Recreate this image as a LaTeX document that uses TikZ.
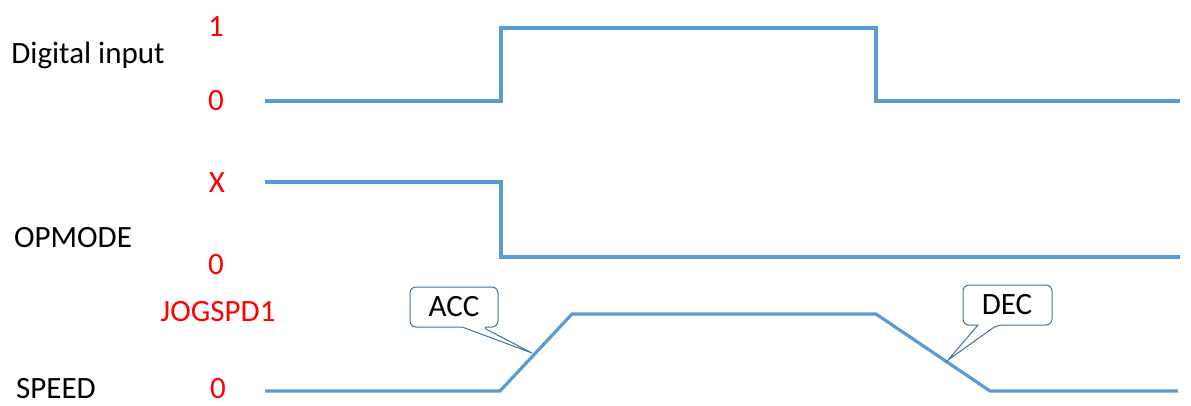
\documentclass[tikz,border=0pt]{standalone}
\usepackage{fontspec}
\setmainfont{Carlito}
\begin{document}
\begin{tikzpicture}[x=1pt,y=-1pt,
  wave/.style={draw=wavecol,line width=3.2pt,line join=miter},
  lbl/.style={font=\fontsize{31}{34}\selectfont,text=black,inner sep=0pt},
  val/.style={font=\fontsize{31}{34}\selectfont,text=red,inner sep=0pt},
  callout/.style={draw=callcol,fill=white,line width=1pt},
  ctext/.style={font=\fontsize{31}{34}\selectfont,inner sep=0pt}]
\definecolor{wavecol}{HTML}{5B9BD5}
\definecolor{callcol}{HTML}{41719C}
\useasboundingbox (0,0) rectangle (1191,405);
% labels
\node[lbl] (di) at (88,55) {Digital input};
\node[lbl] (op) at (73,238) {OPMODE};
\node[lbl] (sp) at (56,389) {SPEED};
\node[val] (d1) at (216,27) {1};
\node[val] (d0) at (216,101) {0};
\node[val] (ox) at (217,183) {X};
\node[val] (o0) at (216,265) {0};
\node[val] (jog) at (218,312) {JOGSPD1};
\node[val] (s0) at (218,389) {0};
% waveforms
\draw[wave] (265,101) -- (501,101) -- (501,28) -- (876,28) -- (876,101) -- (1180,101);
\draw[wave] (265,182) -- (501,182) -- (501,257) -- (1180,257);
\draw[wave] (265,391) -- (500,391) -- (572,314) -- (876,314) -- (990,391) -- (1178,391);
% ACC callout
\draw[callout,rounded corners=6pt] (410,307) -- (410,287) -- (498,287) -- (498,327) -- (482,327) [sharp corners] -- (532,353) -- (462,327) [rounded corners=6pt] -- (410,327) -- cycle;
\node[ctext] (acc) at (454,307) {ACC};
% DEC callout
\draw[callout,rounded corners=6pt] (963,305) -- (963,285) -- (1052,285) -- (1052,325) -- (997,325) [sharp corners] -- (948,360) -- (978,325) [rounded corners=6pt] -- (963,325) -- cycle;
\node[ctext] (dec) at (1007,305) {DEC};
\end{tikzpicture}
\end{document}
